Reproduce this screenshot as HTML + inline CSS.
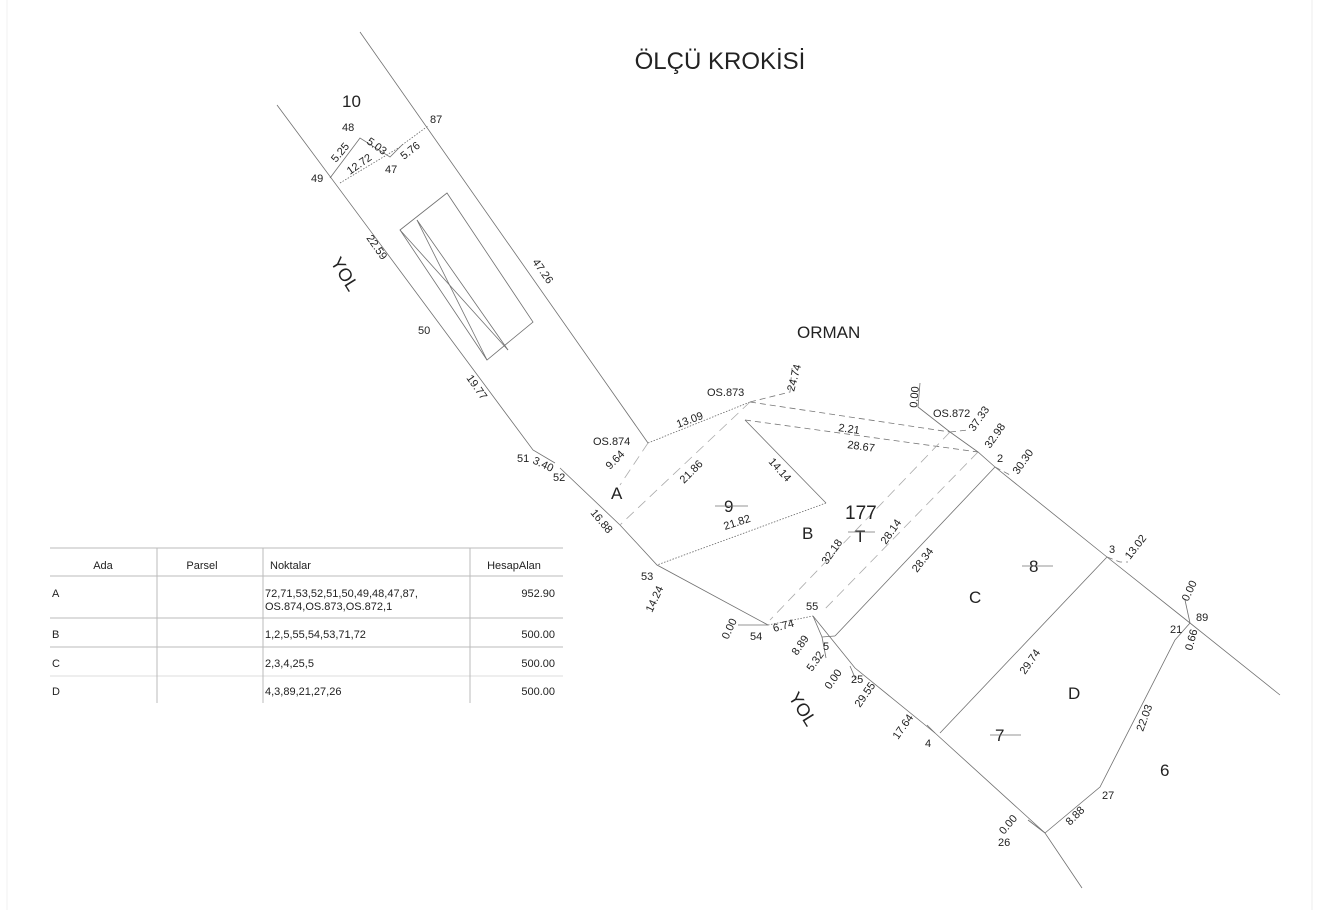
<!DOCTYPE html>
<html><head><meta charset="utf-8"><style>
html,body{margin:0;padding:0;background:#fff;}
svg{display:block;font-family:"Liberation Sans",sans-serif;}
.l{stroke:#707070;stroke-width:0.8;fill:none}
.d{stroke:#777;stroke-width:0.8;fill:none;stroke-dasharray:6 4}
.dl{stroke:#aaa;stroke-width:0.8;fill:none;stroke-dasharray:10 6}
.o{stroke:#666;stroke-width:0.8;fill:none;stroke-dasharray:1.5 1.5}
text{fill:#222;font-size:11px}
.b{font-size:17px}
</style></head><body>
<svg width="1320" height="910" viewBox="0 0 1320 910">
<rect x="0" y="0" width="1320" height="910" fill="#fff"/>
<line x1="1312" y1="0" x2="1312" y2="910" stroke="#eee"/>
<line x1="7" y1="0" x2="7" y2="910" stroke="#f2f2f2"/>
<text x="720" y="69" text-anchor="middle" style="font-size:24px">ÖLÇÜ KROKİSİ</text>

<polyline class="l" points="277,105 533,450 555,463"/>
<polyline class="l" points="560,468 620,525 657,565 768,625"/>
<line class="l" x1="360" y1="32" x2="648" y2="443"/>
<polyline class="l" points="330,178 360,138 390,157 402,145"/>
<line class="o" x1="402" y1="145" x2="428" y2="126"/>
<line class="o" x1="340" y1="183" x2="400" y2="147"/>
<polygon class="l" points="400,230 447,193 533,322 487,360"/>
<line class="l" x1="417" y1="220" x2="508" y2="350"/>
<line class="l" x1="400" y1="230" x2="508" y2="350"/>
<line class="l" x1="417" y1="220" x2="487" y2="360"/>
<line class="o" x1="648" y1="443" x2="750" y2="402"/>
<polyline class="d" points="750,402 790,392 792,368"/>
<line class="d" x1="750" y1="402" x2="950" y2="432"/>
<line class="d" x1="950" y1="432" x2="968" y2="430"/>
<line class="d" x1="745" y1="420" x2="978" y2="452"/>
<line class="l" x1="745" y1="420" x2="826" y2="503"/>
<line class="o" x1="826" y1="503" x2="657" y2="565"/>
<line class="dl" x1="750" y1="402" x2="620" y2="525"/>
<line class="dl" x1="648" y1="443" x2="620" y2="485"/>
<line class="dl" x1="950" y1="432" x2="770" y2="620"/>
<line class="dl" x1="978" y1="452" x2="822" y2="612"/>
<polyline class="l" points="918,407 920,383"/>
<polyline class="l" points="918,407 950,432 978,452 995,467 1107,557 1190,623 1280,695"/>
<polyline class="d" points="995,467 1010,475"/>
<polyline class="d" points="1107,557 1120,562 1128,562"/>
<line class="l" x1="995" y1="467" x2="835" y2="636"/>
<polyline class="o" points="768,625 813,616"/>
<polyline class="l" points="813,616 822,637 835,636"/>
<polyline class="l" points="813,616 855,668 935,733 1045,833 1082,888"/>
<polyline class="l" points="822,637 826,658"/>
<polyline class="l" points="850,666 856,680"/>
<line class="l" x1="940" y1="733" x2="1107" y2="557"/>
<polyline class="l" points="1045,833 1100,787 1175,640 1190,623"/>
<polyline class="l" points="1190,623 1185,600"/>
<polyline class="l" points="738,625 768,625"/>
<polyline class="l" points="1045,833 1028,820"/>
<polyline class="l" points="935,733 927,725"/>

<text x="342" y="107" class="b">10</text>
<text x="342" y="131">48</text>
<text x="430" y="123">87</text>
<text x="311" y="182">49</text>
<text x="385" y="173">47</text>
<text transform="translate(336,163) rotate(-50)">5.25</text>
<text transform="translate(366,143) rotate(35)">5.03</text>
<text transform="translate(350,175) rotate(-35)">12.72</text>
<text transform="translate(404,160) rotate(-38)">5.76</text>
<text transform="translate(366,238) rotate(55)">22.59</text>
<text transform="translate(532,262) rotate(55)">47.26</text>
<text transform="translate(330,262) rotate(58)" style="font-size:18px">YOL</text>
<text x="418" y="334">50</text>
<text transform="translate(466,378) rotate(55)">19.77</text>
<text x="517" y="462">51</text>
<text transform="translate(532,463) rotate(25)">3.40</text>
<text x="553" y="481">52</text>
<text x="797" y="338" style="font-size:17px">ORMAN</text>
<text x="707" y="396">OS.873</text>
<text transform="translate(794,392) rotate(-75)">24.74</text>
<text x="593" y="445">OS.874</text>
<text transform="translate(678,428) rotate(-20)">13.09</text>
<text transform="translate(610,470) rotate(-45)">9.64</text>
<text transform="translate(684,484) rotate(-45)">21.86</text>
<text transform="translate(768,462) rotate(48)">14.14</text>
<text transform="translate(838,431) rotate(8)">2.21</text>
<text transform="translate(847,448) rotate(8)">28.67</text>
<text transform="translate(917,408) rotate(-85)">0.00</text>
<text x="933" y="417">OS.872</text>
<text transform="translate(974,432) rotate(-55)">37.33</text>
<text transform="translate(990,449) rotate(-55)">32.98</text>
<text x="997" y="462">2</text>
<text transform="translate(1018,475) rotate(-55)">30.30</text>
<text x="611" y="499" class="b">A</text>
<text x="724" y="512" class="b">9</text>
<line class="l" x1="715" y1="506" x2="748" y2="506"/>
<text transform="translate(590,513) rotate(50)">16.88</text>
<text transform="translate(725,530) rotate(-18)">21.82</text>
<text x="802" y="539" class="b">B</text>
<text x="845" y="519" style="font-size:19px">177</text>
<text x="855" y="542" class="b">T</text>
<line class="l" x1="848" y1="532" x2="875" y2="532"/>
<text transform="translate(827,565) rotate(-55)">32.18</text>
<text transform="translate(886,545) rotate(-55)">28.14</text>
<text transform="translate(917,573) rotate(-52)">28.34</text>
<text x="641" y="580">53</text>
<text transform="translate(652,613) rotate(-65)">14.24</text>
<text x="1109" y="553">3</text>
<text transform="translate(1130,560) rotate(-52)">13.02</text>
<text x="1029" y="572" class="b">8</text>
<line class="l" x1="1022" y1="566" x2="1053" y2="566"/>
<text x="969" y="603" class="b">C</text>
<text transform="translate(1188,602) rotate(-65)">0.00</text>
<text x="1196" y="621">89</text>
<text x="1170" y="633">21</text>
<text transform="translate(1192,651) rotate(-75)">0.66</text>
<text transform="translate(728,640) rotate(-65)">0.00</text>
<text x="750" y="640">54</text>
<text transform="translate(774,632) rotate(-15)">6.74</text>
<text x="806" y="610">55</text>
<text transform="translate(797,656) rotate(-55)">8.89</text>
<text x="823" y="650">5</text>
<text transform="translate(812,672) rotate(-55)">5.32</text>
<text transform="translate(830,690) rotate(-55)">0.00</text>
<text x="851" y="683">25</text>
<text transform="translate(860,708) rotate(-55)">29.55</text>
<text transform="translate(788,697) rotate(58)" style="font-size:18px">YOL</text>
<text transform="translate(1025,675) rotate(-55)">29.74</text>
<text x="1068" y="699" class="b">D</text>
<text transform="translate(1143,732) rotate(-70)">22.03</text>
<text transform="translate(898,740) rotate(-55)">17.64</text>
<text x="925" y="747">4</text>
<text x="995" y="741" class="b">7</text>
<line class="l" x1="990" y1="735" x2="1021" y2="735"/>
<text x="1160" y="776" class="b">6</text>
<text x="1102" y="799">27</text>
<text transform="translate(1070,826) rotate(-45)">8.88</text>
<text transform="translate(1004,835) rotate(-50)">0.00</text>
<text x="998" y="846">26</text>

<g stroke="#bbb" stroke-width="1">
<line x1="50" y1="548" x2="563" y2="548"/>
<line x1="50" y1="576" x2="563" y2="576"/>
<line x1="50" y1="618" x2="563" y2="618"/>
<line x1="50" y1="647" x2="563" y2="647"/>
<line x1="50" y1="676" x2="563" y2="676" stroke="#ddd"/>
<line x1="157" y1="548" x2="157" y2="703"/>
<line x1="263" y1="548" x2="263" y2="703"/>
<line x1="470" y1="548" x2="470" y2="703"/>
</g>
<g style="font-size:11px">
<text x="103" y="569" text-anchor="middle">Ada</text>
<text x="202" y="569" text-anchor="middle">Parsel</text>
<text x="270" y="569">Noktalar</text>
<text x="514" y="569" text-anchor="middle">HesapAlan</text>
<text x="52" y="597">A</text>
<text x="265" y="597">72,71,53,52,51,50,49,48,47,87,</text>
<text x="265" y="610">OS.874,OS.873,OS.872,1</text>
<text x="555" y="597" text-anchor="end">952.90</text>
<text x="52" y="638">B</text>
<text x="265" y="638">1,2,5,55,54,53,71,72</text>
<text x="555" y="638" text-anchor="end">500.00</text>
<text x="52" y="667">C</text>
<text x="265" y="667">2,3,4,25,5</text>
<text x="555" y="667" text-anchor="end">500.00</text>
<text x="52" y="695">D</text>
<text x="265" y="695">4,3,89,21,27,26</text>
<text x="555" y="695" text-anchor="end">500.00</text>
</g>
</svg>
</body></html>
